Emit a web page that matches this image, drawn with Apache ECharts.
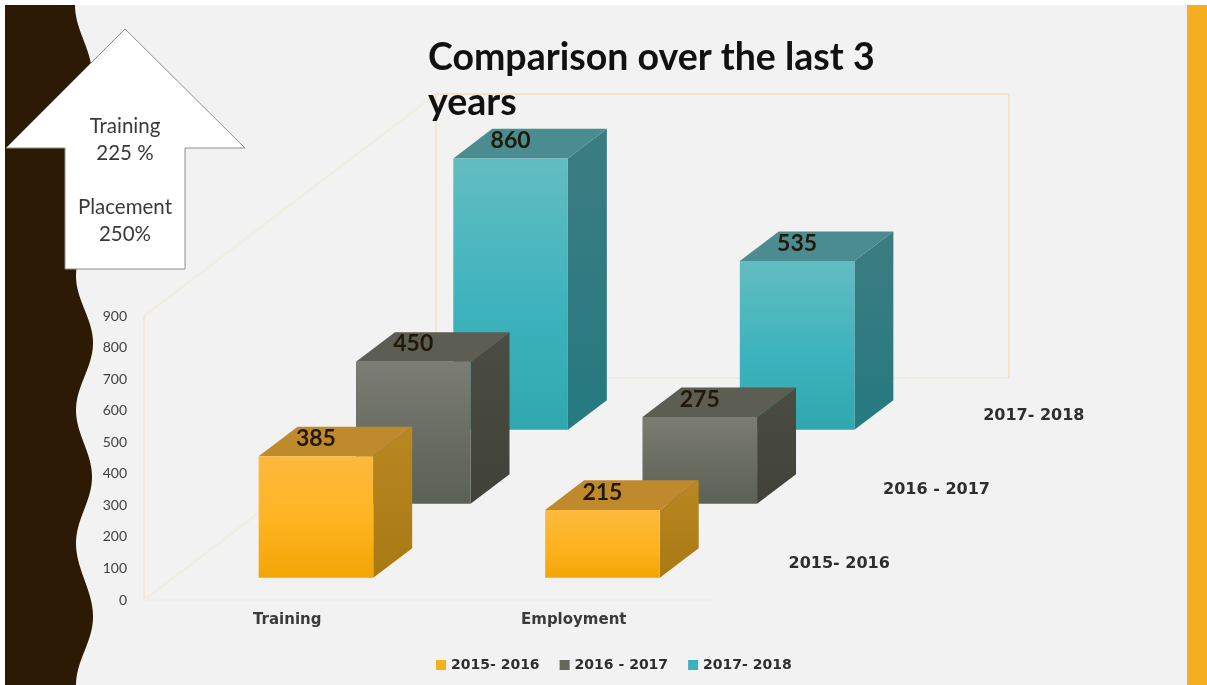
<!DOCTYPE html>
<html>
<head>
<meta charset="utf-8">
<style>html,body{margin:0;padding:0;background:#fff}#chart{width:1207px;height:685px}</style>
<script src="https://cdn.jsdelivr.net/npm/echarts@6/dist/echarts.min.js"></script>
</head>
<body>
<div id="chart"></div>
<script>
// Chart content
const categories = ['Training', 'Employment'];
const yearNames = ['2015- 2016', '2016 - 2017', '2017- 2018'];
const values2015 = [385, 215];
const values2016 = [450, 275];
const values2017 = [860, 535];
const yTicks = { min: 0, max: 900, interval: 100 };
const titleText = 'Comparison over the last 3\nyears';
const arrowLines = ['Training', '225 %', '', 'Placement', '250%'];

// Oblique projection: how far the whole depth axis shifts on screen
const DEPTH_X = 292;
const DEPTH_Y = -222;
const ROWS = 3;
const BAR_RATIO = 0.4;

const FONT = 'Lato, "Noto Sans", sans-serif';
const WIDE_FONT = '"DejaVu Sans", sans-serif';
const INK = '#2e2e2e';

const grad = (a, b) => new echarts.graphic.LinearGradient(0, 0, 0, 1, [
  { offset: 0, color: a }, { offset: 1, color: b }
]);
const frontGrad = (a, b, c) => new echarts.graphic.LinearGradient(0, 0, 0, 1, [
  { offset: 0, color: a }, { offset: 0.55, color: b }, { offset: 1, color: c }
]);

const palettes = [
  { key: '#f6b01e', front: frontGrad('#fdb93f', '#feb31f', '#f3a506'), top: '#bf8a2c', side: grad('#b98722', '#a87a12') },
  { key: '#66685c', front: frontGrad('#7b7d72', '#696c60', '#5c6156'), top: '#5c5d53', side: grad('#4b4c44', '#404138') },
  { key: '#3cb1bb', front: frontGrad('#62bdc1', '#3db3bd', '#30a6ae'), top: '#4a8c90', side: grad('#3b7c82', '#257a80') }
];

// Extruded box for one category in one depth row
function boxRenderer(row) {
  return function (params, api) {
    const base = api.coord([api.value(0), 0]);
    const head = api.coord([api.value(0), api.value(1)]);
    const catWidth = api.size([1, 0])[0];
    const w = catWidth * BAR_RATIO;
    const stepX = DEPTH_X / ROWS, stepY = DEPTH_Y / ROWS;
    const dx = stepX * BAR_RATIO, dy = stepY * BAR_RATIO;
    const cx = base[0] + stepX * (row + 0.5) - dx / 2 - 0.5;
    const by = base[1] + stepY * (row + 0.5) - dy / 2;
    const ty = by - (base[1] - head[1]);
    const l = cx - w / 2, r = cx + w / 2;
    const p = palettes[row];
    return {
      type: 'group',
      children: [
        { type: 'polygon', shape: { points: [[r, ty], [r + dx, ty + dy], [r + dx, by + dy], [r, by]] }, style: { fill: p.side } },
        { type: 'polygon', shape: { points: [[l, ty], [r, ty], [r + dx, ty + dy], [l + dx, ty + dy]] }, style: { fill: p.top } },
        { type: 'rect', shape: { x: l, y: ty, width: w, height: by - ty }, style: { fill: p.front } },
        { type: 'text', style: { text: String(api.value(1)), x: cx, y: ty + dy * 0.6, align: 'center', verticalAlign: 'middle', font: 'bold 23px ' + FONT, fill: '#211808' } }
      ]
    };
  };
}

// Pale frame of the chart's back and side walls
function wallRenderer(params, api) {
  const o = api.coord([0, 0]);
  const t = api.coord([0, yTicks.max]);
  const w = api.size([1, 0])[0] * categories.length;
  const x0 = o[0] - api.size([1, 0])[0] / 2;
  const y0 = o[1], y1 = t[1];
  const seg = (a, b, c, d, col) => ({ type: 'line', shape: { x1: a, y1: b, x2: c, y2: d }, style: { stroke: col, lineWidth: 2, fill: null } });
  return {
    type: 'group',
    children: [
      seg(x0, y0, x0, y1, '#f6e6d6'),
      seg(x0, y1, x0 + DEPTH_X, y1 + DEPTH_Y, '#f0eee0'),
      seg(x0, y0, x0 + DEPTH_X, y0 + DEPTH_Y, '#f0eee0'),
      seg(x0 + DEPTH_X, y1 + DEPTH_Y, x0 + DEPTH_X + w, y1 + DEPTH_Y, '#f3e3c8'),
      seg(x0 + DEPTH_X, y0 + DEPTH_Y, x0 + DEPTH_X + w, y0 + DEPTH_Y, '#f0ece0'),
      seg(x0 + DEPTH_X, y0 + DEPTH_Y, x0 + DEPTH_X, y1 + DEPTH_Y, '#f4e6d3'),
      seg(x0 + DEPTH_X + w, y0 + DEPTH_Y, x0 + DEPTH_X + w, y1 + DEPTH_Y, '#f3e3c8'),
      seg(x0, y0, x0 + w, y0, '#efefef')
    ]
  };
}

// Year labels along the depth axis, right of the floor
function depthLabelRenderer(params, api) {
  const o = api.coord([categories.length - 1, 0]);
  const edge = o[0] + api.size([1, 0])[0] / 2;
  const i = params.dataIndex;
  return {
    type: 'text',
    style: {
      text: yearNames[i],
      x: edge + DEPTH_X / ROWS * (i + 0.5) + 73.5,
      y: o[1] + DEPTH_Y / ROWS * (i + 0.5) + 1,
      align: 'center', verticalAlign: 'middle',
      font: 'bold 16px ' + WIDE_FONT, fill: INK
    }
  };
}

const toPairs = vals => vals.map((v, i) => [i, v]);

// Scalloped edge of the dark side band: alternating turning points, eased between them
function waveOutline() {
  const turns = [[5, 75], [75, 92], [142, 76], [209, 92], [276, 76], [343, 93], [410, 76], [477, 92], [543, 76], [617, 93], [685, 76]];
  const pts = [[5, 5]];
  for (let i = 0; i < turns.length - 1; i++) {
    const [y0, x0] = turns[i], [y1, x1] = turns[i + 1];
    for (let y = y0; y < y1; y += 3) {
      const k = (1 - Math.cos(Math.PI * (y - y0) / (y1 - y0))) / 2;
      pts.push([x0 + (x1 - x0) * k, y]);
    }
  }
  pts.push([76, 685], [5, 685]);
  return pts;
}

const chart = echarts.init(document.getElementById('chart'), null, { renderer: 'canvas' });
chart.setOption({
  animation: false,
  backgroundColor: '#ffffff',
  title: {
    text: titleText, left: 423, top: 30,
    textStyle: { fontFamily: FONT, fontWeight: 'bold', fontSize: 37.5, lineHeight: 45, color: '#111111' }
  },
  legend: {
    data: yearNames, left: 431, top: 653, icon: 'rect', itemWidth: 10, itemHeight: 10, itemGap: 20,
    selectedMode: false,
    textStyle: { fontFamily: WIDE_FONT, fontWeight: 'bold', fontSize: 14, color: INK }
  },
  grid: { left: 144, width: 573, top: 316, height: 284 },
  xAxis: {
    type: 'category', data: categories,
    axisLine: { show: false }, axisTick: { show: false },
    axisLabel: { margin: 13, fontFamily: WIDE_FONT, fontWeight: 'bold', fontSize: 15, color: '#3a3a3a' }
  },
  yAxis: {
    type: 'value', min: yTicks.min, max: yTicks.max, interval: yTicks.interval,
    axisLine: { show: false }, axisTick: { show: false }, splitLine: { show: false },
    axisLabel: { margin: 17, fontFamily: FONT, fontSize: 14, color: '#3f3f3f' }
  },
  series: [
    { type: 'custom', name: 'walls', silent: true, data: [[0, 0]], renderItem: wallRenderer },
    { type: 'custom', name: yearNames[2], itemStyle: { color: palettes[2].key }, data: toPairs(values2017), renderItem: boxRenderer(2) },
    { type: 'custom', name: yearNames[1], itemStyle: { color: palettes[1].key }, data: toPairs(values2016), renderItem: boxRenderer(1) },
    { type: 'custom', name: yearNames[0], itemStyle: { color: palettes[0].key }, data: toPairs(values2015), renderItem: boxRenderer(0) },
    { type: 'custom', name: 'depth', silent: true, data: yearNames.map((n, i) => [1, i]), renderItem: depthLabelRenderer }
  ],
  graphic: [
    { type: 'rect', z: 0, shape: { x: 5, y: 5, width: 1202, height: 680 }, style: { fill: '#f2f2f2' } },
    { type: 'rect', z: 0, shape: { x: 1187, y: 5, width: 20, height: 680 }, style: { fill: '#f5ae20' } },
    { type: 'polygon', z: 0, shape: { points: waveOutline() }, style: { fill: '#2c1a05' } },
    { type: 'polygon', z: 1, shape: { points: [[125, 29], [245, 148], [185, 148], [185, 269], [65, 269], [65, 148], [6, 148]] }, style: { fill: '#ffffff', stroke: '#8f8f8f', lineWidth: 1 } },
    ...arrowLines.map((t, i) => ({
      type: 'text', z: 1, x: 125, y: 126.5 + i * 27,
      style: { text: t, align: 'center', verticalAlign: 'middle', font: '20.5px ' + FONT, fill: '#3a3a3a' }
    }))
  ]
});
</script>
</body>
</html>
